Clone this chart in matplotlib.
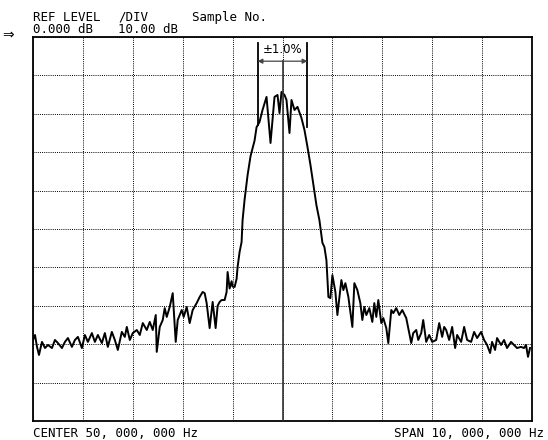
import matplotlib
matplotlib.use("Agg")
import matplotlib.pyplot as plt

# spectrum trace: frequency (MHz) and level (dB)
freq_mhz = [
    45.00, 45.04, 45.08, 45.12, 45.18, 45.24, 45.30, 45.38, 45.44, 45.50,
    45.58, 45.64, 45.70, 45.78, 45.84, 45.90, 45.98, 46.04, 46.10, 46.18,
    46.24, 46.30, 46.38, 46.44, 46.50, 46.58, 46.64, 46.70, 46.78, 46.84,
    46.88, 46.94, 47.00, 47.08, 47.14, 47.20, 47.28, 47.34, 47.40, 47.46,
    47.48, 47.54, 47.60, 47.64, 47.68, 47.74, 47.80, 47.86, 47.90, 47.98,
    48.02, 48.08, 48.14, 48.20, 48.28, 48.34, 48.40, 48.44, 48.48, 48.54,
    48.60, 48.66, 48.70, 48.74, 48.78, 48.84, 48.88, 48.90, 48.94, 48.98,
    49.00, 49.04, 49.08, 49.10, 49.14, 49.18, 49.20, 49.24, 49.30, 49.36,
    49.42, 49.44, 49.48, 49.54, 49.60, 49.68, 49.76, 49.84, 49.90, 49.94,
    49.98, 50.00, 50.04, 50.08, 50.14, 50.18, 50.24, 50.30, 50.38, 50.44,
    50.50, 50.56, 50.62, 50.68, 50.74, 50.80, 50.84, 50.88, 50.92, 50.96,
    51.00, 51.06, 51.10, 51.18, 51.22, 51.26, 51.32, 51.40, 51.44, 51.50,
    51.56, 51.60, 51.64, 51.68, 51.74, 51.80, 51.84, 51.88, 51.92, 51.98,
    52.02, 52.08, 52.12, 52.18, 52.22, 52.28, 52.34, 52.40, 52.48, 52.52,
    52.58, 52.62, 52.68, 52.72, 52.78, 52.82, 52.88, 52.94, 53.00, 53.08,
    53.14, 53.20, 53.24, 53.28, 53.34, 53.40, 53.46, 53.50, 53.58, 53.64,
    53.70, 53.78, 53.84, 53.90, 53.98, 54.04, 54.10, 54.16, 54.20, 54.26,
    54.30, 54.38, 54.44, 54.50, 54.58, 54.64, 54.70, 54.78, 54.84, 54.88,
    54.92, 54.96,
]
level_db = [
    -78.9, -77.6, -80.7, -82.8, -79.4, -81.0, -80.2, -81.0, -78.9, -79.7,
    -81.0, -79.4, -78.4, -80.7, -78.9, -78.1, -81.0, -77.6, -79.4, -77.1,
    -79.4, -77.6, -79.7, -77.1, -80.7, -76.8, -78.9, -81.5, -76.8, -78.1,
    -75.5, -78.9, -77.1, -76.3, -77.6, -74.5, -76.3, -74.2, -76.3, -72.4,
    -82.0, -75.5, -73.7, -70.6, -72.9, -70.3, -66.7, -79.4, -73.7, -71.1,
    -72.9, -70.3, -74.5, -71.1, -69.3, -67.7, -66.4, -66.7, -69.3, -75.8,
    -69.0, -75.8, -70.0, -69.0, -68.5, -68.5, -66.4, -61.2, -65.5, -63.6,
    -65.0, -65.1, -63.0, -59.9, -56.0, -53.4, -47.7, -42.4, -36.0, -31.0,
    -28.0, -27.0, -23.5, -22.1, -19.0, -15.6, -27.6, -15.6, -15.1, -19.8,
    -14.3, -14.6, -15.1, -16.4, -25.0, -16.4, -19.0, -18.2, -21.1, -24.2,
    -28.6, -33.3, -38.5, -43.8, -47.7, -53.6, -54.7, -58.1, -67.7, -68.0,
    -62.0, -66.4, -72.4, -63.3, -65.9, -64.1, -67.7, -75.5, -64.1, -65.9,
    -69.3, -73.7, -70.3, -72.4, -70.6, -74.2, -69.3, -72.9, -68.5, -74.5,
    -73.2, -75.8, -79.7, -71.1, -71.9, -70.6, -72.4, -71.1, -73.2, -75.8,
    -79.7, -77.1, -76.3, -78.9, -77.1, -73.7, -79.4, -77.6, -79.4, -78.9,
    -74.5, -78.1, -75.5, -76.3, -78.9, -75.5, -81.0, -77.6, -79.4, -75.5,
    -78.9, -79.4, -76.8, -78.4, -76.8, -78.9, -80.2, -82.3, -79.4, -81.5,
    -78.4, -80.2, -78.9, -81.0, -79.4, -80.2, -81.0, -80.7, -81.0, -80.2,
    -83.3, -81.0,
]

center_mhz = 50.0
span_mhz = 10.0
ref_db = 0.0
div_db = 10.0
band_pct = 1.0

f_lo = center_mhz - span_mhz / 2
f_hi = center_mhz + span_mhz / 2
y_lo = ref_db - 10 * div_db

fig = plt.figure(figsize=(5.48, 4.40), dpi=100, facecolor="white")
ax = fig.add_axes([33 / 548, 1 - 421 / 440, 499 / 548, 384 / 440])
ax.set_xlim(f_lo, f_hi)
ax.set_ylim(y_lo, ref_db)
ax.set_xticks([f_lo + i * span_mhz / 10 for i in range(11)])
ax.set_yticks([y_lo + i * div_db for i in range(11)])
ax.tick_params(length=0, labelbottom=False, labelleft=False)
ax.grid(True, color="black", linestyle=(0, (1, 1.2)), linewidth=0.7)
for s in ax.spines.values():
    s.set_linewidth(1.3)

ax.plot(freq_mhz, level_db, color="black", linewidth=1.4, zorder=3)

# +-1% markers
half = center_mhz * band_pct / 100
ax.plot([center_mhz - half] * 2, [-1.6, -23.0], color="black", linewidth=1.3, zorder=4)
ax.plot([center_mhz + half] * 2, [-1.6, -23.4], color="black", linewidth=1.3, zorder=4)
ax.annotate("", xy=(center_mhz - half, -6.3), xytext=(center_mhz + half, -6.3),
            arrowprops=dict(arrowstyle="<|-|>", color="#444444", lw=0.9,
                            mutation_scale=7, shrinkA=0, shrinkB=0), zorder=4)
ax.plot([center_mhz, center_mhz], [-6.3, y_lo], color="#333333", linewidth=1.2, zorder=4)
ax.text(center_mhz, -3.3, "±1.0%", ha="center", va="center", fontsize=8.5,
        family="DejaVu Sans", zorder=5)

mono = dict(family="DejaVu Sans Mono", fontsize=9, color="black")
fig.text(33 / 548, 1 - 21 / 440, "REF LEVEL", ha="left", va="baseline", **mono)
fig.text(33 / 548, 1 - 33 / 440, "0.000 dB", ha="left", va="baseline", **mono)
fig.text(118 / 548, 1 - 21 / 440, "/DIV", ha="left", va="baseline", **mono)
fig.text(118 / 548, 1 - 33 / 440, "10.00 dB", ha="left", va="baseline", **mono)
fig.text(192 / 548, 1 - 21 / 440, "Sample No.", ha="left", va="baseline", **mono)
fig.text(2 / 548, 1 - 35 / 440, "⇒", ha="left", va="center",
         family="DejaVu Sans", fontsize=10)
fig.text(33 / 548, 1 - 437 / 440, "CENTER 50, 000, 000 Hz", ha="left", va="baseline", **mono)
fig.text(544 / 548, 1 - 437 / 440, "SPAN 10, 000, 000 Hz", ha="right", va="baseline", **mono)

fig.savefig("out.png", dpi=100, facecolor="white")
